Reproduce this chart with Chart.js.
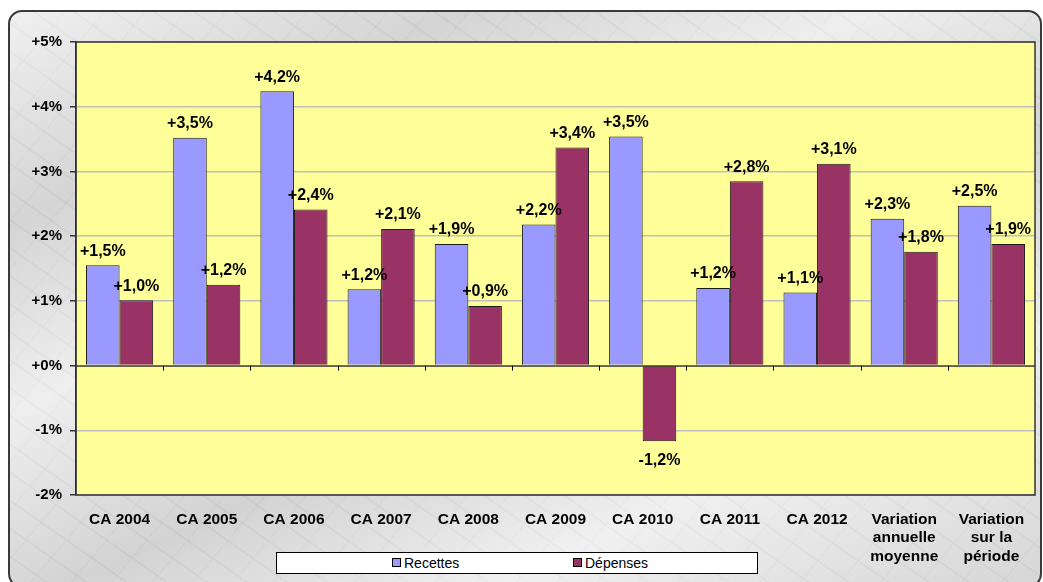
<!DOCTYPE html>
<html>
<head>
<meta charset="utf-8">
<script src="https://cdn.jsdelivr.net/npm/chart.js@4.4.0/dist/chart.umd.min.js"></script>
<style>
  html, body { margin: 0; padding: 0; background: #fff; }
  body { width: 1043px; height: 582px; position: relative; overflow: hidden; font-family: "Liberation Sans", Arial, sans-serif; }
  .frame {
    position: absolute; left: 8px; top: 10px; width: 1030px; height: 574px;
    border: 2px solid #3a3a3a; border-radius: 14px;
    background:
      linear-gradient(155deg, rgba(255,255,255,0.55) 0%, rgba(190,190,190,0.3) 20%, rgba(255,255,255,0.5) 38%, rgba(185,185,185,0.3) 57%, rgba(255,255,255,0.55) 76%, rgba(195,195,195,0.3) 100%),
      repeating-linear-gradient(35deg, rgba(160,160,160,0.18) 0 2px, rgba(255,255,255,0) 2px 23px),
      repeating-linear-gradient(-50deg, rgba(150,150,150,0.14) 0 1px, rgba(255,255,255,0) 1px 31px),
      #dedede;
  }
  canvas { position: absolute; left: 0; top: 0; }
  .legend {
    position: absolute; left: 276px; top: 552px; width: 480px; height: 20px;
    background: #fff; border: 1px solid #000; font-size: 14px; color: #000;
  }
  .legend span { position: absolute; top: 1px; line-height: 18px; }
  .legend i { display: inline-block; width: 7px; height: 7px; border: 1px solid #000; margin-right: 3px; vertical-align: 1px; }
</style>
</head>
<body>
<div class="frame"></div>
<canvas id="myChart" width="1043" height="582"></canvas>
<div class="legend">
  <span style="left:115px"><i style="background:#9999FF"></i>Recettes</span>
  <span style="left:296px"><i style="background:#993366"></i>Dépenses</span>
</div>
<script>
const categories = ['CA 2004', 'CA 2005', 'CA 2006', 'CA 2007', 'CA 2008', 'CA 2009', 'CA 2010', 'CA 2011', 'CA 2012',
  ['Variation', 'annuelle', 'moyenne'], ['Variation', 'sur la', 'période']];
const recettes = [1.55, 3.52, 4.24, 1.18, 1.88, 2.18, 3.54, 1.20, 1.13, 2.27, 2.47];
const depenses = [1.01, 1.25, 2.41, 2.11, 0.92, 3.37, -1.17, 2.85, 3.12, 1.76, 1.88];
const recettesLabels = ['+1,5%', '+3,5%', '+4,2%', '+1,2%', '+1,9%', '+2,2%', '+3,5%', '+1,2%', '+1,1%', '+2,3%', '+2,5%'];
const depensesLabels = ['+1,0%', '+1,2%', '+2,4%', '+2,1%', '+0,9%', '+3,4%', '-1,2%', '+2,8%', '+3,1%', '+1,8%', '+1,9%'];
const yTicks = [-2, -1, 0, 1, 2, 3, 4, 5];

const FONT = '"Liberation Sans", Arial, sans-serif';

// fond jaune + cadre du graphique, traits sous l'axe zéro, étiquettes
const plotArea = {
  id: 'plotArea',
  beforeDraw(chart) {
    const a = chart.chartArea;
    const ctx = chart.ctx;
    ctx.save();
    ctx.fillStyle = '#FFFF99';
    ctx.fillRect(a.left, a.top, a.right - a.left, a.bottom - a.top);
    ctx.restore();
  },
  afterDatasetsDraw(chart) {
    const a = chart.chartArea;
    const ctx = chart.ctx;
    const xs = chart.scales.x;
    const y0 = chart.scales.y.getPixelForValue(0);
    ctx.save();
    ctx.strokeStyle = '#000';
    ctx.lineWidth = 1;
    ctx.beginPath();
    ctx.moveTo(a.left, y0 + 0.5);
    ctx.lineTo(a.right, y0 + 0.5);
    for (let i = 1; i < categories.length; i++) {
      const x = Math.round((xs.getPixelForValue(i - 1) + xs.getPixelForValue(i)) / 2) + 0.5;
      ctx.moveTo(x, y0);
      ctx.lineTo(x, y0 + 5);
    }
    ctx.stroke();
    ctx.strokeStyle = '#333';
    ctx.lineWidth = 1.5;
    ctx.strokeRect(a.left, a.top, a.right - a.left, a.bottom - a.top);

    ctx.fillStyle = '#000';
    ctx.font = 'bold 16px ' + FONT;
    ctx.textAlign = 'center';
    ctx.textBaseline = 'middle';
    const labels = [recettesLabels, depensesLabels];
    chart.data.datasets.forEach((ds, d) => {
      chart.getDatasetMeta(d).data.forEach((bar, i) => {
        const v = ds.data[i];
        const y = v >= 0 ? bar.y - 14 : bar.y + 19;
        ctx.fillText(labels[d][i], bar.x, y);
      });
    });
    ctx.restore();
  }
};

const ctx1 = document.getElementById('myChart').getContext('2d');
const graph = new Chart(ctx1, {
  type: 'bar',
  data: {
    labels: categories,
    datasets: [{
      label: 'Recettes',
      data: recettes,
      backgroundColor: '#9999FF',
      borderColor: '#1a1a1a',
      borderWidth: 1,
      categoryPercentage: 0.77,
      barPercentage: 1
    }, {
      label: 'Dépenses',
      data: depenses,
      backgroundColor: '#993366',
      borderColor: '#1a1a1a',
      borderWidth: 1,
      categoryPercentage: 0.77,
      barPercentage: 1
    }]
  },
  options: {
    responsive: false,
    animation: false,
    layout: { padding: { left: 0, right: 8, top: 42, bottom: 0 } },
    plugins: {
      legend: { display: false },
      tooltip: { enabled: false }
    },
    scales: {
      x: {
        grid: { display: false },
        border: { display: false },
        ticks: {
          color: '#000',
          font: { family: FONT, size: 15.5, weight: 'bold', lineHeight: 1.2 },
          padding: 7,
          maxRotation: 0,
          autoSkip: false
        },
        afterFit(scale) { scale.height = 87; }
      },
      y: {
        min: -2,
        max: 5,
        afterBuildTicks(scale) { scale.ticks = yTicks.map(v => ({ value: v })); },
        grid: { color: '#c0c0c0', lineWidth: 1.5, tickColor: '#333', tickLength: 6 },
        border: { display: true, color: '#333', width: 1.5 },
        ticks: {
          color: '#000',
          font: { family: FONT, size: 15, weight: 'bold' },
          padding: 8,
          callback: v => (v >= 0 ? '+' : '') + v + '%'
        },
        afterFit(scale) { scale.width = 76; }
      }
    }
  },
  plugins: [plotArea]
});
</script>
</body>
</html>
